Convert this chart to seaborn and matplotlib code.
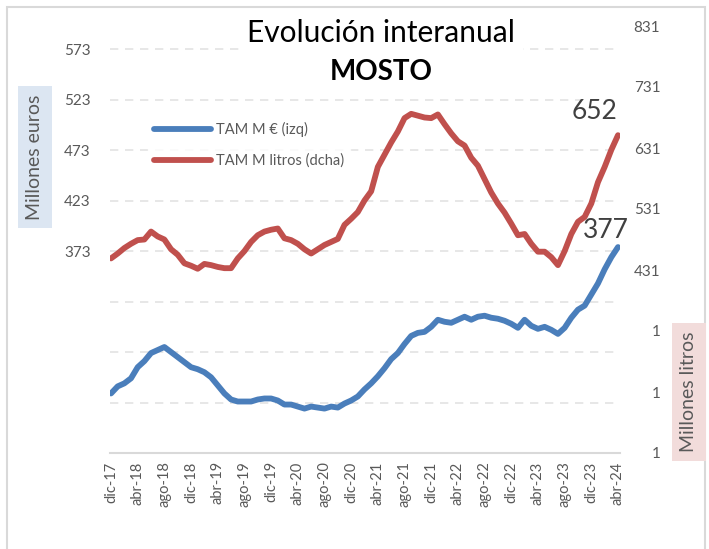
import numpy as np
import pandas as pd
import matplotlib
matplotlib.use("Agg")
import matplotlib.pyplot as plt
import seaborn as sns
from matplotlib.patches import Rectangle

# ---------------- data ----------------
months = pd.date_range("2017-12-01", "2024-04-01", freq="MS")

tam_eur = [232, 239, 242, 247, 258, 264, 272, 275, 278, 273, 268, 263, 258, 256, 253, 248, 240, 232, 226,
           224, 224, 224, 226, 227, 227, 225, 221, 221, 219, 217, 219, 218, 217, 219, 218, 222,
           225, 229, 236, 242, 249, 257, 266, 272, 281, 289, 292, 293, 298, 305, 303, 302, 305, 308, 305, 308, 309, 307,
           306, 304, 301, 297, 305, 299, 296, 298, 295, 291, 297, 307, 315, 319, 330, 341, 355, 367, 377]

tam_litros = [450, 458, 467, 474, 480, 481, 494, 486, 481, 465, 456, 442, 438, 433, 441, 439, 436, 434, 434,
              450, 462, 477, 488, 494, 497, 499, 483, 480, 474, 465, 458, 465, 472, 477, 482, 505,
              515, 526, 545, 560, 600, 620, 640, 658, 680, 687, 684, 681, 680, 686, 670, 655, 642, 635, 615, 602, 580, 558,
              540, 525, 507, 488, 490, 474, 461, 461, 452, 439, 462, 490, 510, 518, 540, 575, 600, 628, 652]

tick_labels = ["dic-17", "abr-18", "ago-18", "dic-18", "abr-19", "ago-19", "dic-19", "abr-20", "ago-20", "dic-20",
               "abr-21", "ago-21", "dic-21", "abr-22", "ago-22", "dic-22", "abr-23", "ago-23", "dic-23", "abr-24"]

left_ticks = [173, 223, 273, 323, 373, 423, 473, 523, 573]
left_tick_labels = ["", "", "", "", "373", "423", "473", "523", "573"]
right_ticks = [131, 231, 331, 431, 531, 631, 731, 831]
right_tick_labels = ["1", "1", "1", "431", "531", "631", "731", "831"]

series_names = ["TAM M € (izq)", "TAM M litros (dcha)"]
title_line1 = "Evolución interanual"
title_line2 = "MOSTO"
left_label = "Millones euros"
right_label = "Millones litros"

df = pd.DataFrame({"idx": np.arange(len(months)), "eur": tam_eur, "litros": tam_litros})

# ---------------- style ----------------
sns.set_theme(style="white")
plt.rcParams["font.family"] = ["Lato", "DejaVu Sans"]

BLUE = "#4a7ebb"
RED = "#c0504d"
GRAY = "#595959"

W, H = 709, 549
fig = plt.figure(figsize=(W / 100, H / 100), dpi=100)

# chart frame
fig.patches.append(Rectangle((7 / W, -0.02), (705 - 7) / W, (H - 7) / H + 0.02, transform=fig.transFigure,
                             fill=False, edgecolor="#d9d9d9", linewidth=1.5, zorder=0))

ax_l, ax_r, ax_t, ax_b = 110, 620, 26, 453
ax = fig.add_axes([ax_l / W, (H - ax_b) / H, (ax_r - ax_l) / W, (ax_b - ax_t) / H])
ax2 = ax.twinx()

sns.lineplot(data=df, x="idx", y="eur", ax=ax, color=BLUE, linewidth=4.2, label=series_names[0],
             legend=False, solid_capstyle="round")
sns.lineplot(data=df, x="idx", y="litros", ax=ax2, color=RED, linewidth=4.2, label=series_names[1],
             legend=False, solid_capstyle="round")

ax.set_xlim(-0.15, 76.3)
ax.set_ylim(173, 596)
ax2.set_ylim(131, 831)

ax.set_xticks(np.arange(0, len(months), 4))
ax.set_xticklabels(tick_labels, rotation=90, fontsize=10.5, color=GRAY)
ax.tick_params(axis="x", length=0, pad=6)

ax.set_yticks(left_ticks)
ax.set_yticklabels(left_tick_labels, fontsize=11, color=GRAY)
ax.tick_params(axis="y", length=0, pad=14)

ax2.set_yticks(right_ticks)
ax2.set_yticklabels(right_tick_labels, fontsize=11, color=GRAY)
ax2.tick_params(axis="y", length=0, pad=29)
for t in ax2.get_yticklabels():
    t.set_horizontalalignment("right")

ax.grid(axis="y", color="#e3e3e3", linestyle=(0, (5, 4)), linewidth=1.2)
ax.grid(axis="x", visible=False)
ax.set_xlabel("")
ax.set_ylabel("")
ax2.set_ylabel("")
for a in (ax, ax2):
    for s in ("top", "left", "right"):
        a.spines[s].set_visible(False)
ax2.spines["bottom"].set_visible(False)
ax.spines["bottom"].set_color("#d9d9d9")
ax.spines["bottom"].set_linewidth(1.5)

# end-value annotations
ax2.annotate(str(tam_litros[-1]), xy=(df["idx"].iloc[-1], tam_litros[-1]), xytext=(-17, 17),
             textcoords="offset points", ha="center", va="center", fontsize=19, color="#404040")
ax.annotate(str(tam_eur[-1]), xy=(df["idx"].iloc[-1], tam_eur[-1]), xytext=(-9, 12),
            textcoords="offset points", ha="center", va="center", fontsize=19, color="#404040")

# legend
h1, l1 = ax.get_legend_handles_labels()
h2, l2 = ax2.get_legend_handles_labels()
leg = ax2.legend(h1 + h2, l1 + l2, loc="center left", bbox_to_anchor=(141 / W, (H - 145) / H),
                 bbox_transform=fig.transFigure, frameon=True, fontsize=10.5, handlelength=3.9,
                 handletextpad=0.35, labelspacing=1.15, borderpad=0.4)
leg.get_frame().set_facecolor("white")
leg.get_frame().set_edgecolor("white")
for t in leg.get_texts():
    t.set_color(GRAY)
for ln in leg.get_lines():
    ln.set_linewidth(4.2)

# title
fig.text(381 / W, 1 - 33 / H, title_line1, ha="center", va="center", fontsize=21.5, color="black",
         bbox=dict(facecolor="white", edgecolor="none", pad=6))
fig.text(381 / W, 1 - 72 / H, title_line2, ha="center", va="center", fontsize=20, fontweight="bold",
         color="black", bbox=dict(facecolor="white", edgecolor="none", pad=4))

# axis titles with coloured boxes
fig.text(35 / W, 1 - 157 / H, left_label, rotation=90, ha="center", va="center", fontsize=14, color=GRAY,
         bbox=dict(facecolor="#dce6f2", edgecolor="none", pad=6))
fig.text(689 / W, 1 - 392 / H, right_label, rotation=90, ha="center", va="center", fontsize=14, color=GRAY,
         bbox=dict(facecolor="#f2dcdb", edgecolor="none", pad=6))

fig.savefig("out.png", dpi=100)
